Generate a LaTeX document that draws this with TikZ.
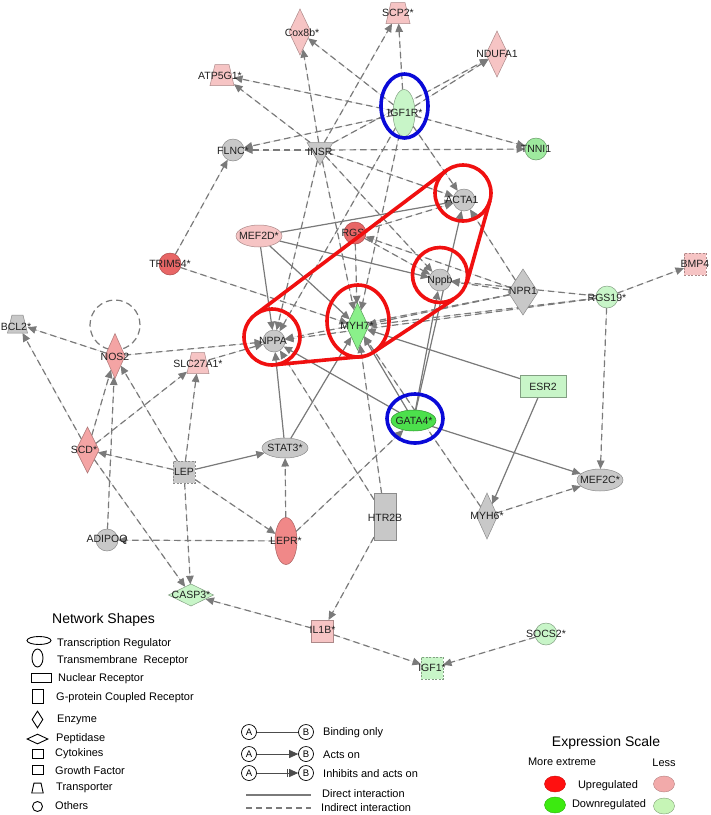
\documentclass[tikz,border=0pt]{standalone}
\usepackage{fontspec}
\setmainfont{Liberation Sans}
\usetikzlibrary{shapes.geometric,arrows.meta,backgrounds}
\definecolor{pinkL}{HTML}{F6C4C4}
\definecolor{pinkM}{HTML}{F4A4A4}
\definecolor{salmon}{HTML}{F08888}
\definecolor{redn}{HTML}{E86666}
\definecolor{greenL}{HTML}{C8F5C8}
\definecolor{greenM}{HTML}{9EEA9E}
\definecolor{greenMY}{HTML}{8AF08A}
\definecolor{greenG}{HTML}{4CE04C}
\definecolor{greyn}{HTML}{C8C8C8}
\definecolor{edgec}{HTML}{7A7A7A}
\definecolor{hlred}{HTML}{F01010}
\definecolor{hlblue}{HTML}{0A0AD8}
\definecolor{upred}{HTML}{FF1010}
\definecolor{dngreen}{HTML}{3CEA10}
\definecolor{lesspink}{HTML}{F2AAAA}
\definecolor{lessgreen}{HTML}{C6F5B6}
\newcommand{\trapz}[3]{\filldraw[#2] ([xshift=#3]#1.north west) -- ([xshift=-#3]#1.north east) -- (#1.south east) -- (#1.south west) -- cycle;}
\tikzset{
  nd/.style={line width=0.5pt, inner sep=0pt, outer sep=0pt},
  pk/.style={nd, fill=pinkL, draw=pinkL!70!black},
  pm/.style={nd, fill=pinkM, draw=pinkM!70!black},
  sa/.style={nd, fill=salmon, draw=salmon!70!black},
  rd/.style={nd, fill=redn, draw=redn!75!black},
  gl/.style={nd, fill=greenL, draw=greenL!65!black},
  gm/.style={nd, fill=greenM, draw=greenM!65!black},
  gy/.style={nd, fill=greenMY, draw=greenMY!65!black},
  gg/.style={nd, fill=greenG, draw=greenG!65!black},
  gr/.style={nd, fill=greyn, draw=greyn!70!black},
  circ/.style={circle, minimum size=22pt},
  hell/.style={ellipse, minimum width=46pt, minimum height=22pt},
  vell/.style={ellipse, minimum width=22pt, minimum height=47pt},
  enz/.style={diamond, minimum width=22pt, minimum height=46pt},
  pep/.style={diamond, minimum width=45pt, minimum height=22pt},
  sqr/.style={rectangle, minimum size=22pt},
  gfac/.style={rectangle, minimum size=22pt, dash pattern=on 2pt off 1.5pt},
  transp/.style={rectangle, minimum width=24pt, minimum height=21pt, inner sep=0pt, outer sep=0pt},
  gpcr/.style={rectangle, minimum width=22pt, minimum height=47pt},
  nucr/.style={rectangle, minimum width=46pt, minimum height=22pt},
  kin/.style={regular polygon, regular polygon sides=3, shape border rotate=180, minimum size=30pt},
  lbl/.style={font=\fontsize{10.5}{12}\selectfont, text=black!88, inner sep=0pt},
  tip/.style={-{Triangle[length=8.5pt,width=7.5pt]}},
  ind/.style={draw=edgec, fill=edgec, line width=1.2pt, dash pattern=on 6.5pt off 4pt, tip},
  dir/.style={draw=edgec, fill=edgec, line width=1.2pt, tip},
  hlr/.style={draw=hlred, line width=3.6pt},
  hlb/.style={draw=hlblue, line width=3.6pt},
  lgs/.style={draw=black, line width=0.9pt, inner sep=0pt, fill=none},
  lgt/.style={font=\fontsize{11}{13}\selectfont, anchor=west, inner sep=0pt},
  ab/.style={circle, draw=black, line width=0.7pt, minimum size=15pt, inner sep=0pt, font=\fontsize{9.5}{10}\selectfont},
}
\begin{document}
\begin{tikzpicture}[x=1pt,y=-1pt]
\useasboundingbox (0,0) rectangle (711,815);

% ---------- nodes (shapes) ----------
\node[transp] (scp2) at (398,13) {};
\node[pk,enz] (cox8b) at (300,32) {};
\node[transp] (atp5g1) at (222,75) {};
\node[pk,enz] (ndufa1) at (497,54) {};
\node[gl,vell] (igf1r) at (404,113) {};
\node[gr,kin] (insr) at (320,150) {};
\node[gr,circ] (flnc) at (233,150) {};
\node[gm,circ] (tnni1) at (536,149) {};
\node[gr,circ] (acta1) at (464,200) {};
\node[rd,circ] (rgs) at (355,233) {};
\node[pk,hell] (mef2d) at (259,236) {};
\node[rd,circ] (trim54) at (170,264) {};
\node[gr,circ] (nppb) at (440,280) {};
\node[gr,diamond,minimum width=30pt,minimum height=46pt] (npr1) at (523,292) {};
\node[gl,circ] (rgs19) at (607,297) {};
\node[pk,gfac] (bmp4) at (695,264) {};
\node[gy,enz,minimum height=47pt] (myh7) at (357.5,326.5) {};
\node[gr,circ] (nppa) at (274,341) {};
\node[pm,enz,minimum width=20pt,minimum height=45pt] (nos2) at (115,356) {};
\node[transp,minimum width=20pt,minimum height=18pt] (bcl2) at (17.5,324) {};
\node[transp,minimum width=22pt] (slc27a1) at (198,363) {};
\node[gl,nucr] (esr2) at (543,386) {};
\node[gg,hell,minimum width=45pt,minimum height=21pt] (gata4) at (413.5,420.5) {};
\node[gr,hell,minimum width=46pt,minimum height=20pt] (stat3) at (285,448) {};
\node[gr,gfac] (lep) at (184,472) {};
\node[pm,enz,minimum width=23pt] (scd) at (87.5,450) {};
\node[gr,circ] (adipoq) at (107,540) {};
\node[sa,vell] (lepr) at (286,541) {};
\node[gr,gpcr] (htr2b) at (385,517) {};
\node[gr,enz,minimum width=21pt] (myh6) at (487,516) {};
\node[gr,hell] (mef2c) at (600,480) {};
\node[gl,pep] (casp3) at (191,595) {};
\node[pk,sqr] (il1b) at (322.5,631) {};
\node[gl,gfac] (igf1) at (432,668) {};
\node[gl,circ] (socs2) at (546,634) {};
\trapz{scp2}{pk}{5pt}
\trapz{atp5g1}{pk}{5pt}
\trapz{bcl2}{gr}{4.5pt}
\trapz{slc27a1}{pk}{4.5pt}

% ---------- connectors ----------
\begin{scope}[on background layer]
\fill[white] (0,0) rectangle (711,815);
\draw[draw=edgec, line width=1.2pt, dash pattern=on 6.5pt off 4pt] (115,325) circle[radius=25pt];
\draw[ind] (igf1r) -- (scp2);
\draw[ind] (insr) -- (scp2);
\draw[ind] (insr) -- (cox8b);
\draw[ind] (igf1r) -- (cox8b);
\draw[ind] (igf1r) -- (atp5g1);
\draw[ind] (insr) -- (atp5g1);
\draw[ind] (igf1r) -- (ndufa1);
\draw[ind] (insr) -- (ndufa1);
\draw[ind] (igf1r) -- (tnni1);
\draw[ind] (insr) -- (tnni1);
\draw[ind] (insr) -- (flnc);
\draw[ind] (igf1r) -- (flnc);
\draw[ind] (trim54) -- (flnc);
\draw[ind] (insr) -- (acta1);
\draw[ind] (igf1r) -- (acta1);
\draw[ind] (npr1) -- (acta1);
\draw[ind] (rgs) -- (acta1);
\draw[dir] (mef2d) -- (acta1);
\draw[dir] (gata4) -- (acta1);
\draw[dir] (gata4) -- (nppb);
\draw[ind] (insr) -- (nppa);
\draw[ind] (igf1r) -- (nppa);
\draw[ind] (insr) -- (myh7);
\draw[ind] (igf1r) -- (myh7);
\draw[ind] (insr) -- (nppb);
\draw[ind] (rgs) -- (myh7);
\draw[ind] (rgs) -- (nppb);
\draw[ind] (npr1) -- (rgs);
\draw[dir] (mef2d) -- (nppa);
\draw[dir] (mef2d) -- (myh7);
\draw[dir] (mef2d) -- (nppb);
\draw[ind] (trim54) -- (myh7);
\draw[ind] (nos2) -- (nppa);
\draw[ind] (slc27a1) -- (nppa);
\draw[ind] (nos2) -- (bcl2);
\draw[ind] (scd) -- (bcl2);
\draw[ind] (scd) -- (nos2);
\draw[ind] (adipoq) -- (nos2);
\draw[ind] (lep) -- (nos2);
\draw[ind] (scd) -- (slc27a1);
\draw[ind] (lep) -- (slc27a1);
\draw[ind] (lep) -- (scd);
\draw[dir] (lep) -- (stat3);
\draw[ind] (lep) -- (lepr);
\draw[ind] (lep) -- (casp3);
\draw[ind] (scd) -- (casp3);
\draw[ind] (lepr) -- (stat3);
\draw[ind] (lepr) -- (adipoq);
\draw[ind] (lepr) -- (gata4);
\draw[dir] (stat3) -- (nppa);
\draw[dir] (stat3) -- (myh7);
\draw[ind] (htr2b) -- (myh7);
\draw[ind] (htr2b) -- (nppa);
\draw[ind] (htr2b) -- (il1b);
\draw[ind] (il1b) -- (casp3);
\draw[ind] (il1b) -- (igf1);
\draw[ind] (socs2) -- (igf1);
\draw[dir] (gata4) -- (nppa);
\draw[dir] (gata4) -- (myh7);
\draw[ind] (myh6) -- (myh7);
\draw[dir] (gata4) -- (mef2c);
\draw[dir] (esr2) -- (myh6);
\draw[dir] (esr2) -- (myh7);
\draw[ind] (myh6) -- (mef2c);
\draw[ind] (rgs19) -- (mef2c);
\draw[ind] (rgs19) -- (bmp4);
\draw[ind] (npr1) -- (myh7);
\draw[ind] (rgs19) -- (myh7);
\draw[ind] (npr1) -- (nppa);
\draw[ind] (rgs19) -- (nppa);
\draw[ind] (npr1) -- (nppb);
\draw[ind] (rgs19) -- (nppb);
\end{scope}

% ---------- labels ----------
\node[lbl] (scp2-l) at (398,13) {SCP2*};
\node[lbl] (cox8b-l) at (302,33) {Cox8b*};
\node[lbl] (atp5g1-l) at (220,76) {ATP5G1*};
\node[lbl] (ndufa1-l) at (497,54) {NDUFA1};
\node[lbl] (igf1r-l) at (405,113) {IGF1R*};
\node[lbl] (insr-l) at (320,152) {INSR};
\node[lbl] (flnc-l) at (233,151) {FLNC*};
\node[lbl] (tnni1-l) at (536,149) {TNNI1};
\node[lbl] (acta1-l) at (462,200) {ACTA1};
\node[lbl] (rgs-l) at (355,233) {RGS*};
\node[lbl] (mef2d-l) at (259,236) {MEF2D*};
\node[lbl] (trim54-l) at (170,264) {TRIM54*};
\node[lbl] (nppb-l) at (440,281) {Nppb};
\node[lbl] (npr1-l) at (523,291) {NPR1};
\node[lbl] (rgs19-l) at (607,298) {RGS19*};
\node[lbl] (bmp4-l) at (695,264) {BMP4};
\node[lbl] (myh7-l) at (357,326) {MYH7*};
\node[lbl] (nppa-l) at (273,341) {NPPA};
\node[lbl] (nos2-l) at (115,357) {NOS2};
\node[lbl] (bcl2-l) at (16,327) {BCL2*};
\node[lbl] (slc27a1-l) at (198,364) {SLC27A1*};
\node[lbl] (esr2-l) at (543,387) {ESR2};
\node[lbl] (gata4-l) at (414,421) {GATA4*};
\node[lbl] (stat3-l) at (285,448) {STAT3*};
\node[lbl] (lep-l) at (184,472) {LEP};
\node[lbl] (scd-l) at (84,450) {SCD*};
\node[lbl] (adipoq-l) at (107,540) {ADIPOQ};
\node[lbl] (lepr-l) at (286,541) {LEPR*};
\node[lbl] (htr2b-l) at (385,518) {HTR2B};
\node[lbl] (myh6-l) at (487,516) {MYH6*};
\node[lbl] (mef2c-l) at (600,480) {MEF2C*};
\node[lbl] (casp3-l) at (191,595) {CASP3*};
\node[lbl] (il1b-l) at (322.5,630) {IL1B*};
\node[lbl] (igf1-l) at (432,668) {IGF1*};
\node[lbl] (socs2-l) at (546,634) {SOCS2*};

% ---------- highlights ----------
\draw[hlb] (404.5,106) ellipse[x radius=23.5pt, y radius=32pt];
\draw[hlb] (415,418.5) ellipse[x radius=28pt, y radius=24.5pt];
\draw[hlr] (272,337) circle[radius=28pt];
\draw[hlr] (463,193) circle[radius=28pt];
\draw[hlr] (440,275) circle[radius=27.5pt];
\draw[hlr] (358,321) ellipse[x radius=31pt, y radius=36pt];
\draw[hlr] (255.1,314.7) -- (446.1,170.7);
\draw[hlr] (490,200.6) -- (467,282.6);
\draw[hlr] (453.7,299.4) -- (373.2,352.4);
\draw[hlr] (363.7,356.4) -- (277.1,364.5);

% ---------- legend: network shapes ----------
\node[font=\fontsize{14}{16}\selectfont, anchor=west, inner sep=0pt] (lgtitle) at (52,620) {Network Shapes};
\node[lgs, ellipse, minimum width=24pt, minimum height=8pt] (lg1) at (39,640.5) {};
\node[lgt] (lg1t) at (57,644) {Transcription Regulator};
\node[lgs, ellipse, minimum width=11pt, minimum height=18pt] (lg2) at (37.5,658) {};
\node[lgt] (lg2t) at (57,661) {Transmembrane\ \ Receptor};
\node[lgs, rectangle, minimum width=20pt, minimum height=9pt] (lg3) at (41,677.5) {};
\node[lgt] (lg3t) at (58,678.5) {Nuclear Receptor};
\node[lgs, rectangle, minimum width=11pt, minimum height=14pt] (lg4) at (37.5,696) {};
\node[lgt] (lg4t) at (56,698) {G-protein Coupled Receptor};
\node[lgs, diamond, minimum width=11pt, minimum height=17pt] (lg5) at (37.5,719.5) {};
\node[lgt] (lg5t) at (57,720) {Enzyme};
\node[lgs, diamond, minimum width=21pt, minimum height=10pt] (lg6) at (37.5,739) {};
\node[lgt] (lg6t) at (56,739) {Peptidase};
\node[lgs, rectangle, minimum width=11pt, minimum height=9pt] (lg7) at (37.5,753.5) {};
\node[lgt] (lg7t) at (55,754) {Cytokines};
\node[lgs, rectangle, minimum width=11pt, minimum height=8.5pt] (lg8) at (37.5,770) {};
\node[lgt] (lg8t) at (55,771) {Growth Factor};
\node[rectangle, minimum width=11pt, minimum height=9.5pt, inner sep=0pt] (lg9) at (37.5,788) {};
\trapz{lg9}{draw=black, line width=0.9pt, fill=none}{2.2pt}
\node[lgt] (lg9t) at (56,788) {Transporter};
\node[lgs, circle, minimum size=10pt] (lg10) at (37.5,806.5) {};
\node[lgt] (lg10t) at (55,806) {Others};

% ---------- legend: relations ----------
\node[ab] (a1) at (249,732) {A};
\node[ab] (b1) at (306,732) {B};
\draw[draw=black!70, line width=0.8pt] (a1) -- (b1);
\node[lgt] (r1t) at (323,733) {Binding only};
\node[ab] (a2) at (249,754) {A};
\node[ab] (b2) at (306,754) {B};
\draw[draw=black!70, fill=edgec, line width=0.8pt, -{Triangle[length=9pt,width=8pt]}] (a2) -- (b2);
\node[lgt] (r2t) at (323,755) {Acts on};
\node[ab] (a3) at (249,773) {A};
\node[ab] (b3) at (306,773) {B};
\draw[draw=black!70, fill=edgec, line width=0.8pt, -{Bar[width=8pt,sep=1pt] Triangle[length=9pt,width=8pt]}] (a3) -- (b3);
\node[lgt] (r3t) at (323,774) {Inhibits and acts on};
\coordinate (d1) at (246,795);
\coordinate (d2) at (311,795);
\draw[draw=edgec, line width=1.1pt] (d1) -- (d2);
\node[lgt] (r4t) at (322,794) {Direct interaction};
\coordinate (i1) at (246,808);
\coordinate (i2) at (311,808);
\draw[draw=edgec, line width=1.1pt, dash pattern=on 6pt off 4pt] (i1) -- (i2);
\node[lgt] (r5t) at (321,808) {Indirect interaction};

% ---------- legend: expression scale ----------
\node[font=\fontsize{14}{16}\selectfont, inner sep=0pt] (estitle) at (606,743) {Expression Scale};
\node[font=\fontsize{11}{13}\selectfont, inner sep=0pt] (esmore) at (562,762) {More extreme};
\node[font=\fontsize{11}{13}\selectfont, inner sep=0pt] (esless) at (664,763) {Less};
\node[ellipse, fill=upred, draw=upred!80!black, line width=0.4pt, minimum width=21pt, minimum height=16pt, inner sep=0pt] (esup1) at (555,784) {};
\node[font=\fontsize{11}{13}\selectfont, inner sep=0pt] (esupt) at (608,786) {Upregulated};
\node[ellipse, fill=lesspink, draw=lesspink!75!black, line width=0.4pt, minimum width=21pt, minimum height=16pt, inner sep=0pt] (esup2) at (664,784) {};
\node[ellipse, fill=dngreen, draw=dngreen!75!black, line width=0.4pt, minimum width=21pt, minimum height=16pt, inner sep=0pt] (esdn1) at (555,805) {};
\node[font=\fontsize{11}{13}\selectfont, inner sep=0pt] (esdnt) at (609,805) {Downregulated};
\node[ellipse, fill=lessgreen, draw=lessgreen!65!black, line width=0.4pt, minimum width=21pt, minimum height=16pt, inner sep=0pt] (esdn2) at (664,806) {};
\end{tikzpicture}
\end{document}
